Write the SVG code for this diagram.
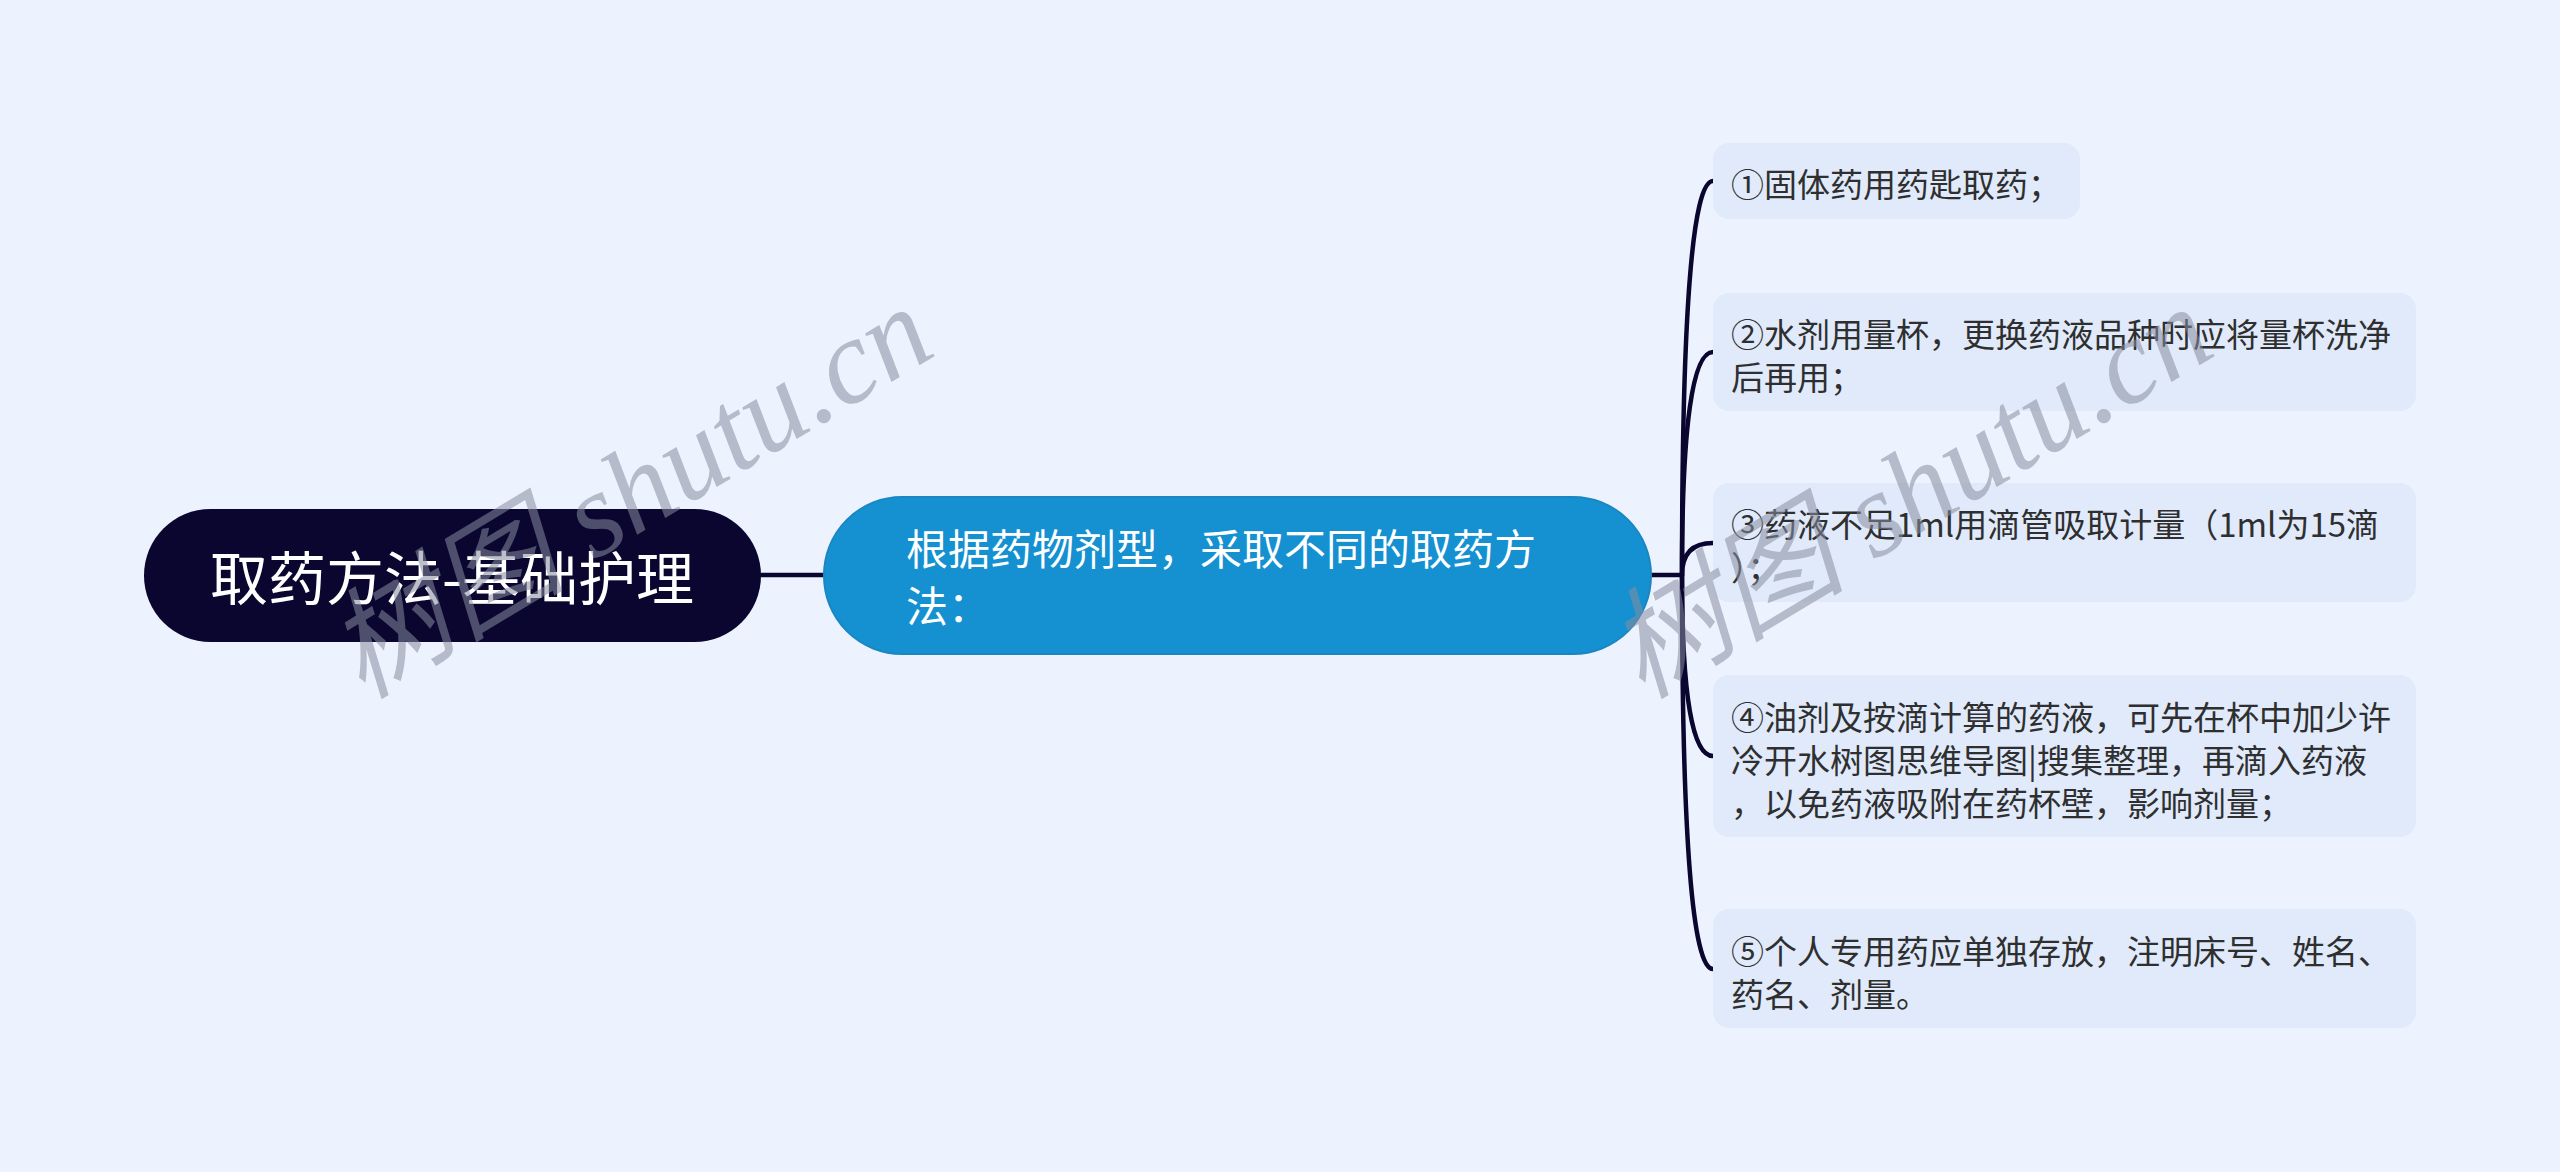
<svg xmlns="http://www.w3.org/2000/svg" width="2560" height="1172" viewBox="0 0 2560 1172">
<style>
.bg{fill:#edf3fe}
.conn{fill:none;stroke:#0b0630;stroke-width:4.5;stroke-linecap:round}
.root{fill:#0b0630}
.main{fill:#1591d1;stroke:#1b86c2;stroke-width:2}
.leaf{fill:#e0eafb}
.t{font-family:"Noto Sans CJK SC","Noto Sans",sans-serif;dominant-baseline:central}
.rt{fill:#ffffff;font-size:58px}
.mt{fill:#ffffff;font-size:42px}
.lt{fill:#2f2f2f;font-size:33px}
.wm{font-family:"Liberation Serif","Noto Sans CJK SC",serif;font-style:italic;font-size:120px;fill:#868d9e;fill-opacity:0.55}
</style>
<rect class="bg" x="0" y="0" width="2560" height="1172"/>
<g id="connectors">
<path class="conn" d="M761 575 L824 575"/>
<path class="conn" d="M1651 575 L1682 575"/>
<path class="conn" d="M1682 575 Q1682 181 1713 181"/>
<path class="conn" d="M1682 575 Q1682 352 1713 352"/>
<path class="conn" d="M1682 575 Q1682 543 1713 543"/>
<path class="conn" d="M1682 575 Q1682 756 1713 756"/>
<path class="conn" d="M1682 575 Q1682 969 1713 969"/>
</g>
<g id="root">
<rect class="root" x="144" y="509" width="617" height="133" rx="66.5"/>
<text class="t rt" x="452" y="575" text-anchor="middle">取药方法-基础护理</text>
</g>
<g id="main">
<rect class="main" x="824" y="497" width="827" height="157" rx="78"/>
<text class="t mt" x="906" y="546">根据药物剂型，采取不同的取药方</text>
<text class="t mt" x="906" y="603">法：</text>
</g>
<g id="leaf1">
<rect class="leaf" x="1713" y="143" width="367" height="76" rx="16"/>
<text class="t lt" x="1731" y="183">①固体药用药匙取药；</text>
</g>
<g id="leaf2">
<rect class="leaf" x="1713" y="293" width="703" height="118" rx="16"/>
<text class="t lt" x="1731" y="333">②水剂用量杯，更换药液品种时应将量杯洗净</text>
<text class="t lt" x="1731" y="376">后再用；</text>
</g>
<g id="leaf3">
<rect class="leaf" x="1713" y="483" width="703" height="119" rx="16"/>
<text class="t lt" x="1731" y="523">③药液不足1ml用滴管吸取计量（1ml为15滴</text>
<text class="t lt" x="1731" y="566">）；</text>
</g>
<g id="leaf4">
<rect class="leaf" x="1713" y="675" width="703" height="162" rx="16"/>
<text class="t lt" x="1731" y="716">④油剂及按滴计算的药液，可先在杯中加少许</text>
<text class="t lt" x="1731" y="759">冷开水树图思维导图|搜集整理，再滴入药液</text>
<text class="t lt" x="1731" y="802">，以免药液吸附在药杯壁，影响剂量；</text>
</g>
<g id="leaf5">
<rect class="leaf" x="1713" y="909" width="703" height="119" rx="16"/>
<text class="t lt" x="1731" y="950">⑤个人专用药应单独存放，注明床号、姓名、</text>
<text class="t lt" x="1731" y="993">药名、剂量。</text>
</g>
<g id="watermarks">
<text class="wm" transform="translate(362 700) rotate(-31)">树图 shutu.cn</text>
<text class="wm" transform="translate(1642 700) rotate(-31)">树图 shutu.cn</text>
</g>
</svg>
